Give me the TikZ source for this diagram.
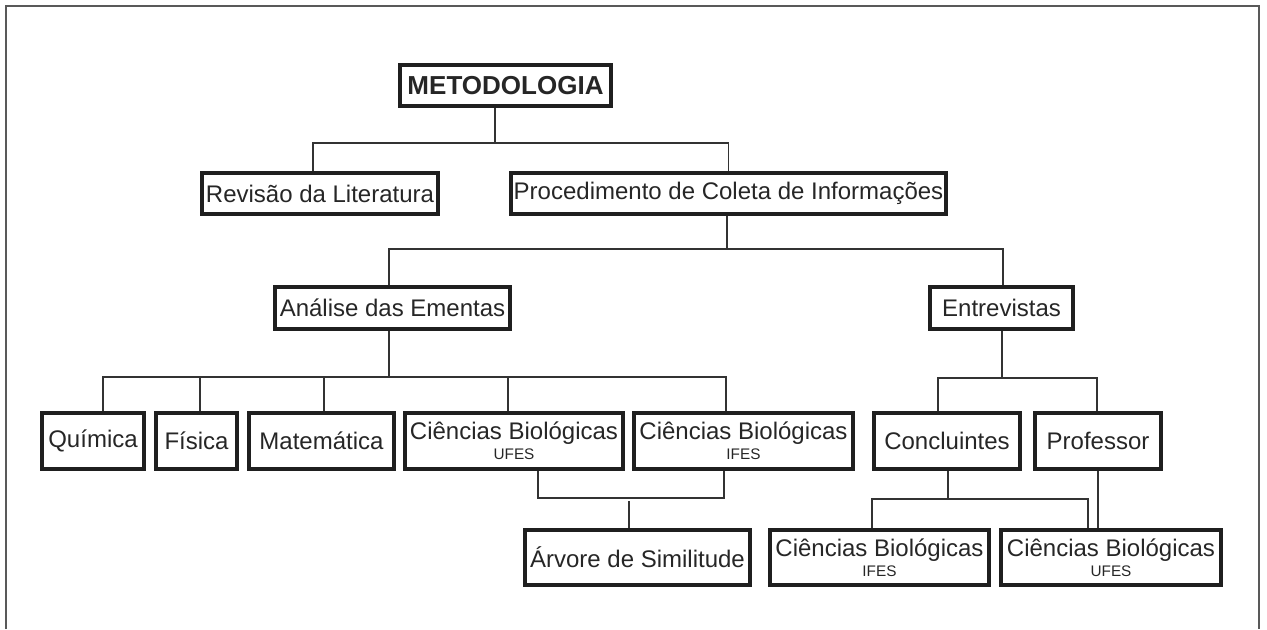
\documentclass[tikz,border=0pt]{standalone}
\usepackage{fontspec}
\setmainfont{Liberation Sans}
\begin{document}
\begin{tikzpicture}[font=\fontsize{17.07}{20.5}\selectfont,
  box/.style={draw=black!88, line width=0.1cm, inner sep=0pt, align=center, text=black!85},
  link/.style={draw=black!80, line width=1.3pt},
  frame/.style={draw=black!65, line width=1.4pt},
  sub/.style={font=\fontsize{10.9}{12}\selectfont}]
  \useasboundingbox (0,0) rectangle (31.675,-15.725);
  \draw[frame] (0.15,-15.725) -- (0.15,-0.15) -- (31.475,-0.15) -- (31.475,-15.725);
  % levels 0 to 2
  \node[box, font=\bfseries\fontsize{18.5}{22}\selectfont, minimum width=5.275cm, minimum height=1.025cm] (metod) at (12.6375,-2.1375) {METODOLOGIA};
  \node[box, minimum width=5.9cm, minimum height=1.025cm] (rev) at (8.0,-4.8375) {Revisão da Literatura};
  \node[box, minimum width=10.875cm, minimum height=1.025cm] (proc) at (18.2125,-4.8375) {Procedimento de Coleta de Informações};
  \node[box, minimum width=5.875cm, minimum height=1.05cm] (anal) at (9.8125,-7.7) {Análise das Ementas};
  \node[box, minimum width=3.575cm, minimum height=1.05cm] (entr) at (25.0375,-7.7) {Entrevistas};
  % level 3
  \node[box, minimum width=2.55cm, minimum height=1.4cm] (quim) at (2.325,-11.025) {Química};
  \node[box, minimum width=2.025cm, minimum height=1.4cm] (fis) at (4.9125,-11.025) {Física};
  \node[box, minimum width=3.625cm, minimum height=1.4cm] (mat) at (8.0375,-11.025) {Matemática};
  \node[box, minimum width=5.45cm, minimum height=1.4cm] (cbu) at (12.85,-11.025) {Ciências Biológicas\\[-6pt]{\fontsize{10.9}{12}\selectfont UFES}};
  \node[box, minimum width=5.475cm, minimum height=1.4cm] (cbi) at (18.5875,-11.025) {Ciências Biológicas\\[-6pt]{\fontsize{10.9}{12}\selectfont IFES}};
  \node[box, minimum width=3.65cm, minimum height=1.4cm] (conc) at (23.675,-11.025) {Concluintes};
  \node[box, minimum width=3.15cm, minimum height=1.4cm] (prof) at (27.45,-11.025) {Professor};
  % level 4
  \node[box, minimum width=5.625cm, minimum height=1.375cm] (arv) at (15.9375,-13.9375) {Árvore de Similitude};
  \node[box, minimum width=5.475cm, minimum height=1.375cm] (cbi2) at (21.9875,-13.9375) {Ciências Biológicas\\[-6pt]{\fontsize{10.9}{12}\selectfont IFES}};
  \node[box, minimum width=5.5cm, minimum height=1.375cm] (cbu2) at (27.775,-13.9375) {Ciências Biológicas\\[-6pt]{\fontsize{10.9}{12}\selectfont UFES}};
  % connectors
  \draw[link] ([xshift=-0.2625cm]metod.south) -- ++(0,-0.875) -| ([xshift=-0.175cm]rev.north);
  \draw[link] ([xshift=-0.2625cm]metod.south) -- ++(0,-0.875) -| (proc.north);
  \draw[link] ([xshift=-0.0375cm]proc.south) -- ++(0,-0.825) -| ([xshift=-0.0875cm]anal.north);
  \draw[link] ([xshift=-0.0375cm]proc.south) -- ++(0,-0.825) -| ([xshift=0.0375cm]entr.north);
  \draw[link] ([xshift=-0.0875cm]anal.south) -- ++(0,-1.15) -| ([xshift=0.25cm]quim.north);
  \draw[link] ([xshift=-0.0875cm]anal.south) -- ++(0,-1.15) -| ([xshift=0.0875cm]fis.north);
  \draw[link] ([xshift=-0.0875cm]anal.south) -- ++(0,-1.15) -| ([xshift=0.0625cm]mat.north);
  \draw[link] ([xshift=-0.0875cm]anal.south) -- ++(0,-1.15) -| ([xshift=-0.15cm]cbu.north);
  \draw[link] ([xshift=-0.0875cm]anal.south) -- ++(0,-1.15) -| ([xshift=-0.4375cm]cbi.north);
  \draw[link] ([xshift=0.0125cm]entr.south) -- ++(0,-1.175) -| ([xshift=-0.225cm]conc.north);
  \draw[link] ([xshift=0.0125cm]entr.south) -- ++(0,-1.175) -| ([xshift=-0.025cm]prof.north);
  \draw[link] ([xshift=0.6cm]cbu.south) -- ++(0,-0.675) -| ([xshift=-0.4875cm]cbi.south);
  \draw[link] ([xshift=-0.2125cm]arv.north) -- ++(0,0.6875);
  \draw[link] ([xshift=0.025cm]conc.south) -- ++(0,-0.7) -| ([xshift=-0.1875cm]cbi2.north);
  \draw[link] ([xshift=0.025cm]conc.south) -- ++(0,-0.7) -| ([xshift=-0.575cm]cbu2.north);
  \draw[link] (prof.south) -- ([xshift=-0.325cm]cbu2.north);
\end{tikzpicture}
\end{document}
